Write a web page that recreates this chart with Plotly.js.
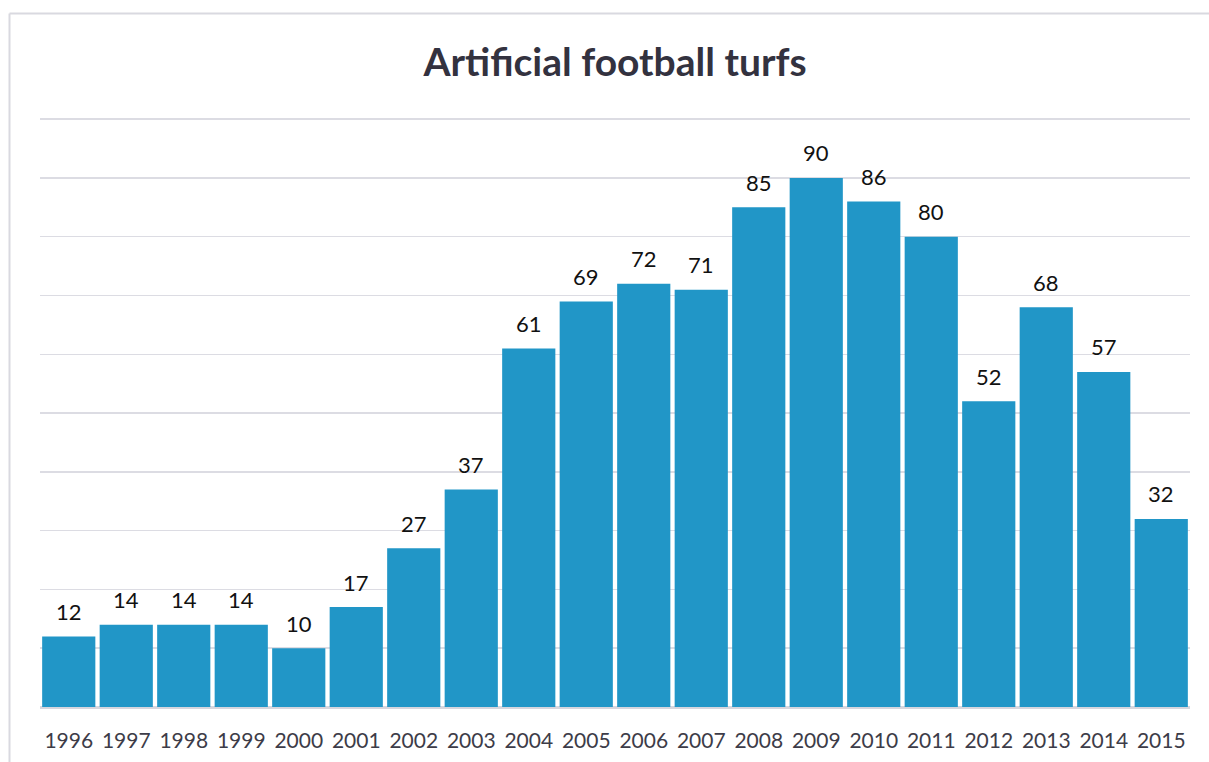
<!DOCTYPE html>
<html>
<head>
<meta charset="utf-8">
<script src="https://cdn.plot.ly/plotly-3.0.1.min.js"></script>
<style>html,body{margin:0;padding:0;background:#fff;}#chart{width:1209px;height:762px;}</style>
</head>
<body>
<div id="chart"></div>
<script>
const years = ['1996','1997','1998','1999','2000','2001','2002','2003','2004','2005','2006','2007','2008','2009','2010','2011','2012','2013','2014','2015'];
const turfs = [12,14,14,14,10,17,27,37,61,69,72,71,85,90,86,80,52,68,57,32];

const W = 1209, H = 762, ml = 40, mr = 19, mt = 118, mb = 55;
const pw = W - ml - mr, ph = H - mt - mb;
const px = v => (v - ml) / pw;
const py = v => (H - mb - v) / ph;
const FONT = 'Lato, "Open Sans", sans-serif';

const trace = {
  type: 'bar',
  x: years,
  y: turfs,
  marker: {color: '#2196c7', line: {width: 0}},
  hoverinfo: 'x+y'
};

// data labels positioned by category index on the category axis
const labels = years.map((yr, i) => ({
  x: i, y: turfs[i], xref: 'x', yref: 'y',
  text: String(turfs[i]),
  showarrow: false,
  xanchor: 'center', yanchor: 'middle',
  yshift: 25,
  font: {family: FONT, size: 22, color: '#111111'}
}));

const layout = {
  width: W, height: H,
  margin: {l: ml, r: mr, t: mt, b: mb, pad: 0},
  paper_bgcolor: '#ffffff',
  plot_bgcolor: '#ffffff',
  bargap: 0.075,
  showlegend: false,
  title: {
    text: '<b>Artificial football turfs</b>',
    font: {family: FONT, size: 39, color: '#33323f'},
    xref: 'paper', x: 0.5, xanchor: 'center', y: 1 - 62 / H, yanchor: 'middle'
  },
  xaxis: {
    type: 'category',
    range: [-0.5, years.length - 0.5],
    showgrid: false,
    showline: false,
    zeroline: false,
    ticks: '',
    tickfont: {family: FONT, size: 21, color: '#3d3c48'},
    ticklabelstandoff: 19
  },
  yaxis: {
    range: [0, 100.2],
    dtick: 10,
    tick0: 0,
    showticklabels: false,
    showgrid: true,
    gridcolor: '#dcdce3',
    gridwidth: 1.5,
    zeroline: true,
    zerolinecolor: '#d6d6de',
    zerolinewidth: 3,
    fixedrange: true
  },
  annotations: labels,
  shapes: [
    {type: 'line', xref: 'paper', yref: 'paper', x0: px(9.5), x1: px(9.5), y0: py(13.5), y1: py(H + 5), line: {color: '#d9d9e0', width: 2}},
    {type: 'line', xref: 'paper', yref: 'paper', x0: px(9.5), x1: px(W + 5), y0: py(13.5), y1: py(13.5), line: {color: '#d9d9e0', width: 2}}
  ]
};

Plotly.newPlot('chart', [trace], layout, {displayModeBar: false, staticPlot: true});
</script>
</body>
</html>
